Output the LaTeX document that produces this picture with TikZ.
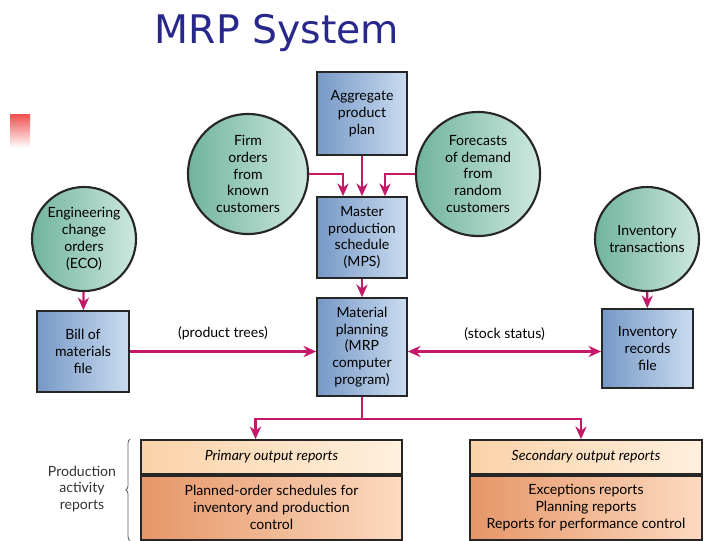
\documentclass[tikz,border=0pt]{standalone}
\usepackage{fontspec}
\setmainfont{Lato}
\newfontfamily\titlefont{DejaVu Sans}
\usetikzlibrary{positioning,calc,arrows.meta,decorations.pathreplacing}

\definecolor{titleblue}{RGB}{40,40,140}
\definecolor{arrowred}{RGB}{196,24,104}
\definecolor{boxdark}{RGB}{118,152,198}
\definecolor{boxlight}{RGB}{202,220,240}
\definecolor{bubbledark}{RGB}{112,180,156}
\definecolor{bubblelight}{RGB}{206,232,224}
\definecolor{headdark}{RGB}{250,210,168}
\definecolor{headlight}{RGB}{255,240,222}
\definecolor{bodydark}{RGB}{230,150,104}
\definecolor{bodylight}{RGB}{252,218,192}

\begin{document}
\begin{tikzpicture}[x=0.025cm, y=-0.025cm,
    box/.style={draw=black!85, line width=1.2pt, left color=boxdark, right color=boxlight,
      align=center, minimum width=2.25cm, inner sep=2pt},
    bubble/.style={circle, draw=black!85, line width=1.5pt, left color=bubbledark,
      right color=bubblelight, align=center, inner sep=0pt},
    flow/.style={draw=arrowred, line width=1.5pt, -{Stealth[length=9pt,width=8pt]}},
    headbox/.style={draw=black!85, line width=1.2pt, left color=headdark, right color=headlight,
      minimum height=0.85cm, font=\itshape},
    bodybox/.style={draw=black!85, line width=1.2pt, left color=bodydark, right color=bodylight,
      minimum height=1.6cm, align=center}]
    \useasboundingbox (0,0) rectangle (720,540);

    % Title and the red mark at the left
    \node[font=\titlefont\fontsize{28}{32}\selectfont, text=titleblue] (title) at (277,33) {MRP System};
    \shade[top color={rgb,255:red,240;green,80;blue,80}, bottom color=white] (10,114) rectangle (30,148);

    % Inputs
    \node[box, minimum height=2.075cm] (agg) at (362,113.5) {Aggregate\\product\\plan};
    \node[bubble, minimum size=3cm] (firm) at (248,174) {Firm\\orders\\from\\known\\customers};
    \node[bubble, minimum size=3.1cm] (fore) at (478,174) {Forecasts\\of demand\\from\\random\\customers};
    \node[bubble, minimum size=2.6cm] (eco) at (84,239) {Engineering\\change\\orders\\(ECO)};
    \node[bubble, minimum size=2.6cm] (trans) at (647,239) {Inventory\\transactions};

    % Files and planning
    \node[box, minimum height=2.025cm] (mps) at (362,237.5) {Master\\production\\schedule\\(MPS)};
    \node[box, minimum height=2.45cm] (mrp) at (362,347) {Material\\planning\\(MRP\\computer\\program)};
    \node[box, minimum width=2.3cm, minimum height=2.025cm] (bill) at (83,351.5) {Bill of\\materials\\file};
    \node[box, minimum width=2.275cm, minimum height=1.975cm] (records) at (647.5,348.5) {Inventory\\records\\file};

    % Output reports
    \node[headbox, minimum width=6.525cm] (phead) at (271.5,457) {Primary output reports};
    \node[bodybox, minimum width=6.525cm, below=0pt of phead] (pbody) {Planned-order schedules for\\inventory and production\\control};
    \node[headbox, minimum width=5.8cm] (shead) at (586,457) {Secondary output reports};
    \node[bodybox, minimum width=5.8cm, below=0pt of shead] (sbody) {Exceptions reports\\Planning reports\\Reports for performance control};
    \node[align=center, text=black!80] (prod) at (82,489) {Production\\activity\\reports};
    \draw[black!60, line width=0.6pt, decorate, decoration={brace, amplitude=3pt}]
      ([xshift=-0.25cm]pbody.south west) -- ([xshift=-0.25cm]phead.north west);

    % Connectors
    \draw[flow] (firm.east) -| ($(mps.north)+(-19,0)$);
    \draw[flow] (agg) -- (mps);
    \draw[flow] (fore.west) -| ($(mps.north)+(23,0)$);
    \draw[flow] (mps) -- (mrp);
    \draw[flow] (eco) -- (bill);
    \draw[flow] (trans) -- (records);
    \draw[flow] (bill.east) -- node[above=4pt, text=black] {(product trees)} (bill.east -| mrp.west);
    \draw[flow, {Stealth[length=9pt,width=8pt]}-{Stealth[length=9pt,width=8pt]}]
      (bill.east -| mrp.east) -- node[above=4pt, text=black] {(stock status)} (bill.east -| records.west);
    \coordinate (split) at ($(mrp.south)+(0,22)$);
    \draw[draw=arrowred, line width=1.5pt] (mrp.south) -- (split);
    \draw[flow] (split) -| ($(phead.north)+(-16,0)$);
    \draw[flow] (split) -| ($(shead.north)+(-5,0)$);
  \end{tikzpicture}
\end{document}
